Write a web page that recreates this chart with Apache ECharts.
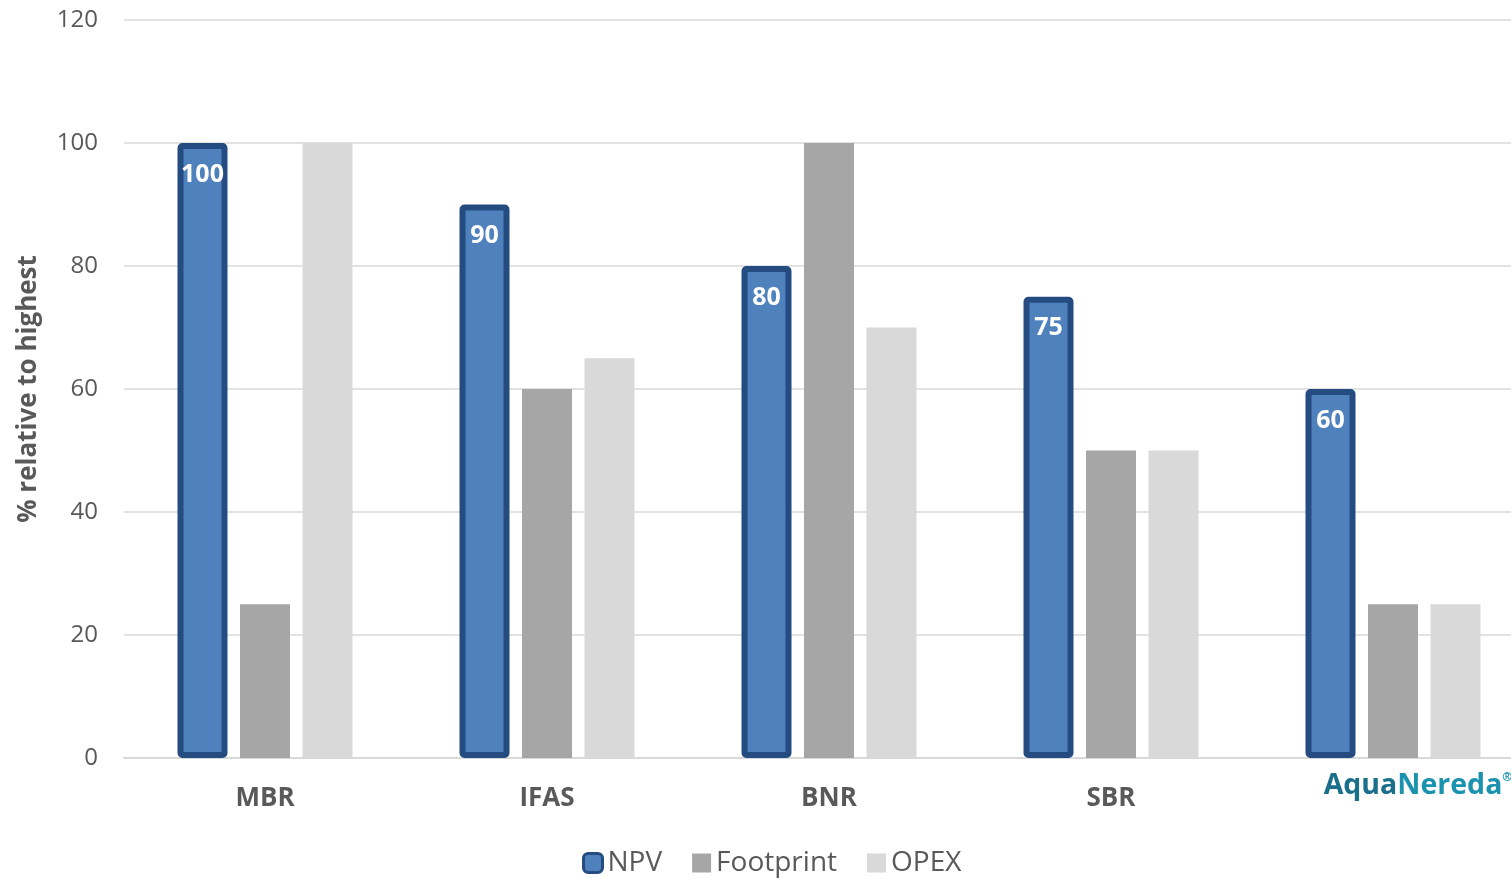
<!DOCTYPE html>
<html>
<head>
<meta charset="utf-8">
<script src="https://cdn.jsdelivr.net/npm/echarts@6/dist/echarts.min.js"></script>
<style>
  html, body { margin: 0; padding: 0; background: #fff; }
  #chart { width: 1511px; height: 878px; }
</style>
</head>
<body>
<div id="chart"></div>
<script>
const categories = ['MBR', 'IFAS', 'BNR', 'SBR', 'AquaNereda']
const npv = [100, 90, 80, 75, 60]
const footprint = [25, 60, 100, 50, 25]
const opex = [100, 65, 70, 50, 25]
const yTicks = { min: 0, max: 120, interval: 20 }

const chart = echarts.init(document.getElementById('chart'))
const font = '"Open Sans", "Noto Sans", sans-serif'

// the last category is shown as a brand name, lifted a little
const xData = categories.map(c => c === 'AquaNereda'
  ? { value: c, textStyle: { verticalAlign: 'middle', padding: [0, 0, 0, 50] } }
  : c)

chart.setOption({
  animation: false,
  textStyle: { fontFamily: font },
  // plot runs a bit past the right edge, like the original
  grid: { left: 124, width: 1410, top: 20, bottom: 120, outerBoundsMode: 'none' },
  legend: {
    top: 844,
    left: 577,
    itemWidth: 19,
    itemHeight: 19,
    itemGap: 30,
    textStyle: { fontSize: 28, color: '#595959', fontFamily: font },
    data: [
      { name: 'NPV', itemStyle: { color: '#4F81BD', borderColor: '#244C80', borderWidth: 3 } },
      { name: 'Footprint', icon: 'rect' },
      { name: 'OPEX', icon: 'rect' }
    ]
  },
  xAxis: {
    type: 'category',
    data: xData,
    axisLine: { lineStyle: { color: '#D9D9D9', width: 2 } },
    axisTick: { show: false },
    axisLabel: {
      interval: 0,
      margin: 28,
      fontSize: 26,
      fontWeight: 'bold',
      color: '#595959',
      formatter: function (v) {
        if (v === 'AquaNereda') return '{a|Aqua}{n|Nereda}{r|®}'
        return v
      },
      rich: {
        a: { fontSize: 28.5, fontWeight: 'bold', color: '#1A6F8A', fontFamily: font },
        n: { fontSize: 28.5, color: '#1B93AE', fontFamily: font },
        r: { fontSize: 12, color: '#1B93AE', fontFamily: font, verticalAlign: 'top' }
      }
    }
  },
  yAxis: {
    type: 'value',
    min: yTicks.min,
    max: yTicks.max,
    interval: yTicks.interval,
    name: '% relative to highest',
    nameLocation: 'middle',
    nameGap: 82,
    nameTextStyle: { fontSize: 26, fontWeight: 'bold', color: '#595959', fontFamily: font },
    axisLine: { show: false },
    axisTick: { show: false },
    axisLabel: { fontSize: 24, color: '#595959', margin: 26 },
    splitLine: { lineStyle: { color: '#D9D9D9', width: 1.5 } }
  },
  series: [
    {
      name: 'NPV',
      type: 'bar',
      data: npv,
      barWidth: 50,
      barGap: '25%',
      itemStyle: { color: '#4F81BD', borderColor: '#244C80', borderWidth: 6, borderRadius: 2 },
      label: {
        show: true,
        position: 'insideTop',
        distance: 19,
        color: '#fff',
        fontSize: 25,
        fontWeight: 'bold',
        fontFamily: font
      }
    },
    {
      name: 'Footprint',
      type: 'bar',
      data: footprint,
      barWidth: 50,
      itemStyle: { color: '#A6A6A6' }
    },
    {
      name: 'OPEX',
      type: 'bar',
      data: opex,
      barWidth: 50,
      itemStyle: { color: '#D9D9D9' }
    }
  ]
})
</script>
</body>
</html>
